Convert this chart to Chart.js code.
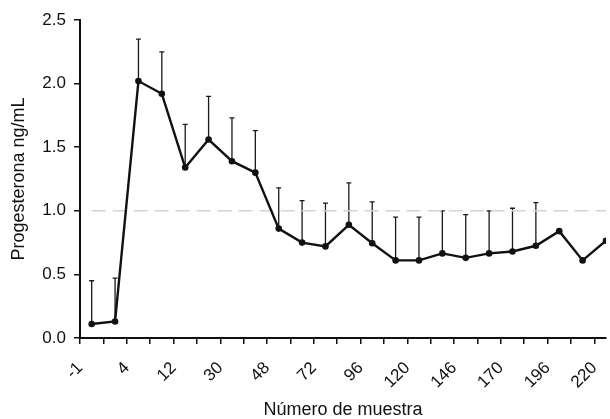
<!DOCTYPE html>
<html>
<head>
<meta charset="utf-8">
<script src="https://cdn.jsdelivr.net/npm/chart.js@4/dist/chart.umd.min.js"></script>
<style>
  html, body { margin: 0; padding: 0; background: #fff; overflow: hidden; }
  #wrap { width: 610px; height: 419px; }
</style>
</head>
<body>
<div id="wrap"><canvas id="chart"></canvas></div>
<script>
// Tick labels shown under every second tick mark
const tickLabels = ['-1', '4', '12', '30', '48', '72', '96', '120', '146', '170', '196', '220'];
// Mean progesterone (ng/mL) per sample
const means = [0.11, 0.13, 2.02, 1.92, 1.34, 1.56, 1.39, 1.30, 0.86, 0.75, 0.72, 0.89,
               0.745, 0.61, 0.61, 0.665, 0.63, 0.665, 0.68, 0.725, 0.84, 0.61, 0.765];
// Upper error (SD); null where no bar is drawn
const sdUp = [0.34, 0.34, 0.33, 0.33, 0.34, 0.34, 0.34, 0.33, 0.32, 0.33, 0.34, 0.33,
              0.325, 0.34, 0.34, 0.335, 0.34, 0.335, 0.34, 0.34, null, null, null];
const refLevel = 1.0;

const FONT = "'Liberation Sans', Arial, sans-serif";

// Upward-only error bars, drawn through the chart's scales
const errorBars = {
  id: 'errorBars',
  beforeDatasetsDraw(chart) {
    const { ctx, scales: { x, y } } = chart;
    ctx.save();
    ctx.strokeStyle = '#1a1a1a';
    ctx.lineWidth = 1.3;
    means.forEach((m, i) => {
      if (sdUp[i] == null) return;
      const px = x.getPixelForValue(i + 0.5);
      const y0 = y.getPixelForValue(m);
      const y1 = y.getPixelForValue(m + sdUp[i]);
      ctx.beginPath();
      ctx.moveTo(px, y0);
      ctx.lineTo(px, y1);
      ctx.moveTo(px - 2.5, y1);
      ctx.lineTo(px + 2.5, y1);
      ctx.stroke();
    });
    ctx.restore();
  }
};

new Chart(document.getElementById('chart'), {
  type: 'line',
  data: {
    datasets: [
      {
        data: means.map((v, i) => ({ x: i + 0.5, y: v })),
        borderColor: '#111',
        backgroundColor: '#111',
        borderWidth: 2.4,
        pointRadius: 3.3,
        pointBorderWidth: 0,
        tension: 0,
        order: 1,
      },
      {
        data: [{ x: 0.5, y: refLevel }, { x: 22.5, y: refLevel }],
        borderColor: '#d4d4d4',
        borderWidth: 1.5,
        borderDash: [14, 7],
        pointRadius: 0,
        order: 2,
      },
    ],
  },
  plugins: [errorBars],
  options: {
    responsive: true,
    maintainAspectRatio: false,
    animation: false,
    layout: { padding: { top: 20, right: 0, left: 0, bottom: 0 } },
    plugins: { legend: { display: false }, tooltip: { enabled: false } },
    scales: {
      x: {
        type: 'linear',
        min: 0,
        max: 22.5,
        afterBuildTicks: (scale) => {
          scale.ticks = Array.from({ length: 23 }, (_, i) => ({ value: i }));
        },
        afterFit: (scale) => {
          scale.height = 81;
          scale.paddingLeft = 0;
          scale.paddingRight = 0;
        },
        border: { color: '#111', width: 2 },
        grid: { drawOnChartArea: false, color: '#111', lineWidth: 1.5, tickLength: 6 },
        ticks: {
          autoSkip: false,
          minRotation: 45,
          maxRotation: 45,
          padding: 14,
          color: '#111',
          font: { family: FONT, size: 17 },
          callback: (v) => (v % 2 === 0 ? tickLabels[v / 2] : ''),
        },
        title: {
          display: true,
          text: 'Número de muestra',
          color: '#111',
          font: { family: FONT, size: 18, lineHeight: 1 },
          padding: { top: 0, bottom: 0 },
        },
      },
      y: {
        min: 0,
        max: 2.5,
        afterFit: (scale) => { scale.width = 80; },
        border: { color: '#111', width: 2 },
        grid: { drawOnChartArea: false, color: '#111', lineWidth: 1.5, tickLength: 6 },
        ticks: {
          stepSize: 0.5,
          padding: 8,
          color: '#111',
          font: { family: FONT, size: 17 },
          callback: (v) => v.toFixed(1),
        },
        title: {
          display: true,
          text: 'Progesterona ng/mL',
          color: '#111',
          font: { family: FONT, size: 18 },
          padding: { top: 8, bottom: 0 },
        },
      },
    },
  },
});
</script>
</body>
</html>
